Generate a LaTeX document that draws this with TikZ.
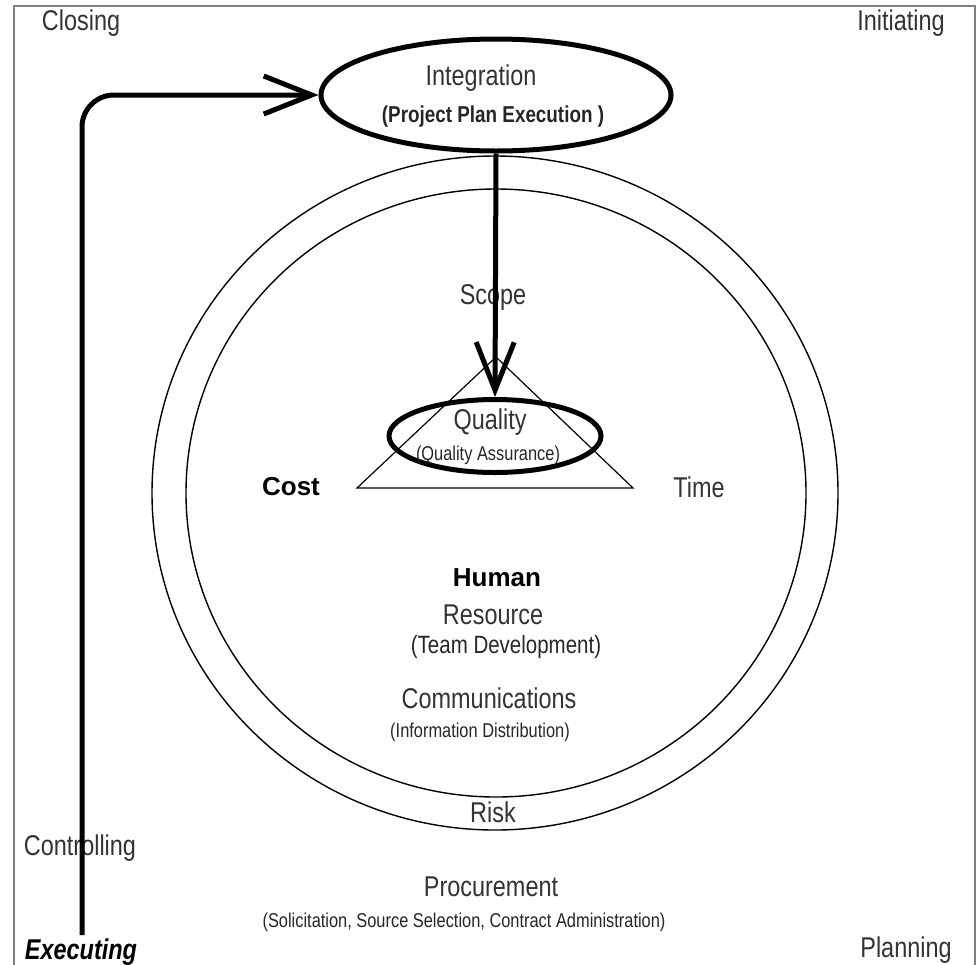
\documentclass[tikz,border=0pt]{standalone}
\usepackage{fontspec}
\setmainfont{Liberation Sans}
\newfontfamily\narrowfont[FakeStretch=0.82]{Liberation Sans}
\usetikzlibrary{arrows.meta,shapes.geometric}

\tikzset{
  areatext/.style={text=black!80, font=\narrowfont\fontsize{14.3}{16}\selectfont},
  subtext/.style={text=black!85, font=\narrowfont\fontsize{10}{12}\selectfont},
  keytext/.style={font=\bfseries\fontsize{13}{15}\selectfont},
  ring/.style={draw, ellipse, line width=2.5pt, inner sep=0pt},
  flow/.style={line width=2.5pt, -{Straight Barb[length=24pt,width=19pt]}}
}

\begin{document}
\begin{tikzpicture}[x=0.5pt, y=-0.5pt]
  \useasboundingbox (0,0) rectangle (978,964);
  \draw [gray, line width=1pt] (14,990) -- (14,6) -- (975,6) -- (975,990);

  % process groups in the corners
  \node [areatext] (closing) at (81,23) {Closing};
  \node [areatext] (initiating) at (901,23) {Initiating};
  \node [areatext] (controlling) at (80,848) {Controlling};
  \node [areatext] (planning) at (906,950) {Planning};
  \node [areatext, font=\narrowfont\bfseries\itshape\fontsize{14.3}{16}\selectfont, text=black] (executing) at (81,952) {Executing};

  % knowledge areas
  \draw [line width=0.7pt] (495,493) ellipse [x radius=343, y radius=337];
  \draw [line width=0.7pt] (496,493) ellipse [x radius=310, y radius=304];
  \coordinate (apex) at (496,357);
  \coordinate (left) at (357,488);
  \coordinate (right) at (633,488);
  \draw [line width=0.6pt] (apex) -- (left) -- (right) -- cycle;

  \node [ring, minimum width=175pt, minimum height=56pt] (integ) at (496,95) {};
  \node [areatext] (integration) at (481,78) {Integration};
  \node [subtext, font=\narrowfont\bfseries\fontsize{11.5}{13}\selectfont] (ppe) at (493,117) {(Project Plan Execution )};

  \node [ring, minimum width=106pt, minimum height=36.5pt] (qual) at (495,436) {};
  \node [areatext] (quality) at (490,422) {Quality};
  \node [subtext] (qa) at (488,455) {(Quality Assurance)};

  \node [areatext] (scope) at (493,297) {Scope};
  \node [keytext] (cost) at (291,487) {Cost};
  \node [areatext] (time) at (699,487) {Time};
  \node [keytext] (human) at (497,578) {Human};
  \node [areatext] (resource) at (493,615) {Resource};
  \node [subtext, font=\narrowfont\fontsize{12.5}{14}\selectfont] (team) at (506,647) {(Team Development)};
  \node [areatext] (comms) at (489,698) {Communications};
  \node [subtext] (info) at (480,732) {(Information Distribution)};
  \node [areatext] (risk) at (493,812) {Risk};
  \node [areatext] (procurement) at (491,887) {Procurement};
  \node [subtext] (solicit) at (464,922) {(Solicitation, Source Selection, Contract Administration)};

  % execution loop
  \coordinate (exstart) at (82,935);
  \draw [flow, rounded corners=16pt] (exstart) |- (integ.west);
  \draw [flow] (integ.south) -- (qual.north);
\end{tikzpicture}
\end{document}
